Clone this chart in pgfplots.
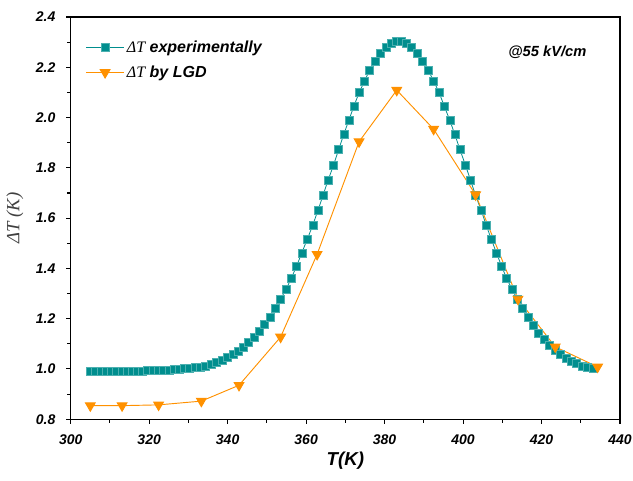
\documentclass[border=0pt]{standalone}
\usepackage{fontspec}
\setmainfont{Liberation Sans}
\newfontfamily\serif{Liberation Serif}
\usepackage{pgfplots}
\pgfplotsset{compat=1.18}
\definecolor{expc}{RGB}{0,142,142}
\definecolor{lgdc}{RGB}{255,145,0}
\begin{document}
\begin{tikzpicture}
\useasboundingbox (-53pt,-46pt) rectangle (421.5pt,314.25pt);
\begin{axis}[
  at={(0,0)}, anchor=south west,
  scale only axis, width=411.75pt, height=301.5pt,
  xmin=300, xmax=440, ymin=0.8, ymax=2.4,
  xtick={300,320,...,440}, minor xtick={310,330,...,430},
  ytick={0.8,1.0,...,2.4}, minor ytick={0.9,1.1,...,2.3},
  tick align=outside, xtick pos=bottom, ytick pos=left,
  major tick length=3.5pt, minor tick length=2.5pt,
  axis line style={line width=1pt}, every tick/.style={line width=0.8pt, black},
  /pgf/number format/assume math mode=true,
  xticklabel style={/pgf/number format/1000 sep={}, yshift=-4.5pt},
  yticklabel style={/pgf/number format/fixed, /pgf/number format/fixed zerofill, /pgf/number format/precision=1, xshift=-4.5pt},
  ticklabel style={font=\bfseries\itshape\fontsize{10.5}{12}\selectfont},
  xlabel={\bfseries\itshape T(K)},
  xlabel style={font=\fontsize{14}{16}\selectfont, at={(axis description cs:0.5,0)}, anchor=center, yshift=-31pt},
  ylabel={{\serif\itshape ΔT (K)}},
  ylabel style={font=\fontsize{14}{16}\selectfont, text=black!75, at={(axis description cs:-0.1015,0.5)}, anchor=center},
  legend style={at={(axis description cs:0.02,0.955)}, anchor=north west, draw=none, fill=none,
    font=\bfseries\itshape\fontsize{12}{14}\selectfont, row sep=4.5pt},
  legend cell align=left,
  legend image code/.code={\draw[#1] (0pt,0pt) -- (14pt,0pt) -- (28pt,0pt); \path[#1, mark repeat=2, mark phase=2] plot coordinates {(0pt,0pt) (14pt,0pt) (28pt,0pt)};},
]
\addplot[color=expc, line width=0.6pt, mark=square*, mark size=3pt, mark options={fill=expc, draw=expc!70!white, line width=0.3pt}] coordinates {
(305.0,0.990) (306.3,0.990) (307.7,0.990) (309.0,0.990) (310.3,0.990) (311.7,0.991) (313.0,0.991) (314.3,0.991)
(315.6,0.992) (317.0,0.992) (318.3,0.992) (319.6,0.993) (321.0,0.993) (322.3,0.994) (323.6,0.995) (325.0,0.996)
(326.3,0.997) (327.6,0.999) (328.9,1.001) (330.3,1.003) (331.7,1.005) (333.0,1.008) (334.4,1.012) (335.9,1.018)
(337.2,1.025) (338.6,1.034) (339.9,1.045) (341.3,1.058) (342.6,1.072) (343.9,1.088) (345.3,1.107) (346.7,1.128)
(348.0,1.151) (349.4,1.177) (350.8,1.207) (352.1,1.241) (353.5,1.278) (354.9,1.317) (356.2,1.360) (357.6,1.410)
(358.9,1.462) (360.3,1.516) (361.7,1.572) (363.0,1.630) (364.3,1.690) (365.6,1.751) (367.0,1.811) (368.3,1.873)
(369.6,1.933) (370.9,1.990) (372.2,2.046) (373.5,2.099) (374.9,2.146) (376.2,2.189) (377.6,2.225) (379.0,2.256)
(380.4,2.280) (381.7,2.294) (383.0,2.302) (384.3,2.302) (385.6,2.294) (386.9,2.280) (388.3,2.256) (389.7,2.225)
(391.1,2.189) (392.5,2.146) (393.9,2.099) (395.2,2.046) (396.6,1.990) (397.9,1.933) (399.2,1.873) (400.6,1.811)
(401.9,1.751) (403.2,1.690) (404.6,1.632) (405.9,1.572) (407.2,1.516) (408.5,1.462) (409.8,1.410) (411.1,1.360)
(412.5,1.317) (413.8,1.278) (415.1,1.241) (416.5,1.207) (417.9,1.174) (419.2,1.144) (420.6,1.117) (422.0,1.095)
(423.4,1.075) (424.8,1.059) (426.2,1.044) (427.5,1.031) (428.9,1.022) (430.3,1.012) (431.7,1.006) (433.1,1.002)
};
\addlegendentry{{\serif\mdseries ΔT} experimentally}
\addplot[color=lgdc, line width=0.7pt, mark=triangle*, mark size=4.2pt, mark options={rotate=180, fill=lgdc, draw=lgdc}] coordinates {
(305.0,0.854) (313.1,0.854) (322.4,0.857) (333.3,0.872) (342.9,0.935) (353.5,1.127) (362.8,1.456)
(373.5,1.904) (383.1,2.109) (392.5,1.954) (403.2,1.693) (414.0,1.278) (423.5,1.088) (434.3,1.008)
};
\addlegendentry{{\serif\mdseries ΔT} by LGD}
\node[font=\bfseries\itshape\fontsize{11}{13}\selectfont] at (axis cs:421.5,2.261) {@55 kV/cm};
\end{axis}
\end{tikzpicture}
\end{document}
